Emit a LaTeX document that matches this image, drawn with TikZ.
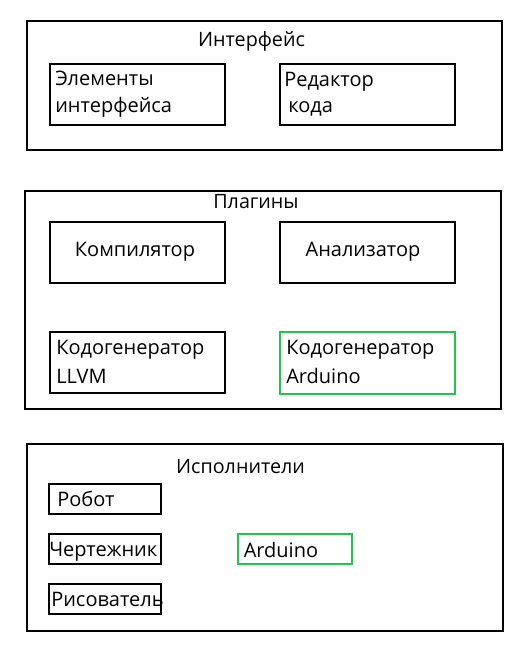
\documentclass[tikz,border=0pt]{standalone}
\usepackage{fontspec}
\setmainfont{Open Sans}
\definecolor{grn}{RGB}{30,200,75}
\tikzset{
  outer/.style={draw=black, line width=1.5pt, rectangle, inner sep=0pt},
  inner/.style={draw=black, line width=1.5pt, rectangle, inner sep=0pt},
  greenbox/.style={draw=grn, line width=1.3pt, rectangle, inner sep=0pt},
  ttl/.style={font=\fontsize{14.8}{17}\selectfont, inner sep=0pt, anchor=base},
  lbl/.style={font=\fontsize{15}{17}\selectfont, inner sep=0pt, anchor=base west},
}
\begin{document}
\begin{tikzpicture}[x=0.75pt,y=-0.75pt]
\useasboundingbox (0,0) rectangle (525,655);
% outer frames
\node[outer, minimum width=475*0.75pt, minimum height=129*0.75pt] (fI) at (264.5,85.5) {};
\node[outer, minimum width=476*0.75pt, minimum height=218*0.75pt] (fP) at (263,300) {};
\node[outer, minimum width=476*0.75pt, minimum height=187*0.75pt] (fE) at (265,537.5) {};
% titles
\node[ttl] (tI) at (251.5,47) {Интерфейс};
\node[ttl] (tP) at (256,209) {Плагины};
\node[ttl] (tE) at (240.5,473) {Исполнители};
% Interface boxes
\node[inner, minimum width=175*0.75pt, minimum height=61*0.75pt] (bEl) at (137.5,94.5) {};
\node[inner, minimum width=175*0.75pt, minimum height=61*0.75pt] (bRed) at (367.5,94.5) {};
\node[lbl] (lEl1) at (55,86) {Элементы};
\node[lbl] (lEl2) at (55,113) {интерфейса};
\node[lbl] (lRed1) at (284,87) {Редактор};
\node[lbl] (lRed2) at (288,113) {кода};
% Plugin boxes
\node[inner, minimum width=175*0.75pt, minimum height=61*0.75pt] (bComp) at (137.5,252.5) {};
\node[inner, minimum width=175*0.75pt, minimum height=61*0.75pt] (bAn) at (367.5,252.5) {};
\node[inner, minimum width=175*0.75pt, minimum height=61*0.75pt] (bLL) at (137.5,362.5) {};
\node[greenbox, minimum width=175*0.75pt, minimum height=62*0.75pt] (bAr) at (367.5,363) {};
\node[lbl, anchor=base] (lComp) at (135,257) {Компилятор};
\node[lbl, anchor=base] (lAn) at (363,257) {Анализатор};
\node[lbl] (lLL1) at (56,354) {Кодогенератор};
\node[lbl] (lLL2) at (56,383) {LLVM};
\node[lbl] (lAr1) at (286,354) {Кодогенератор};
\node[lbl] (lAr2) at (286,383) {Arduino};
% Executors
\node[inner, minimum width=112*0.75pt, minimum height=30*0.75pt] (bRob) at (105,499) {};
\node[inner, minimum width=112*0.75pt, minimum height=30*0.75pt] (bCh) at (105,549) {};
\node[inner, minimum width=112*0.75pt, minimum height=30*0.75pt] (bRis) at (105,599) {};
\node[greenbox, minimum width=114*0.75pt, minimum height=30*0.75pt] (bArd) at (295,549) {};
\node[lbl] (lRob) at (57,506) {Робот};
\node[lbl] (lCh) at (49,556.5) {Чертежник};
\node[lbl] (lRis) at (51,606.5) {Рисователь};
\node[lbl] (lArd) at (243.5,557) {Arduino};
\end{tikzpicture}
\end{document}
